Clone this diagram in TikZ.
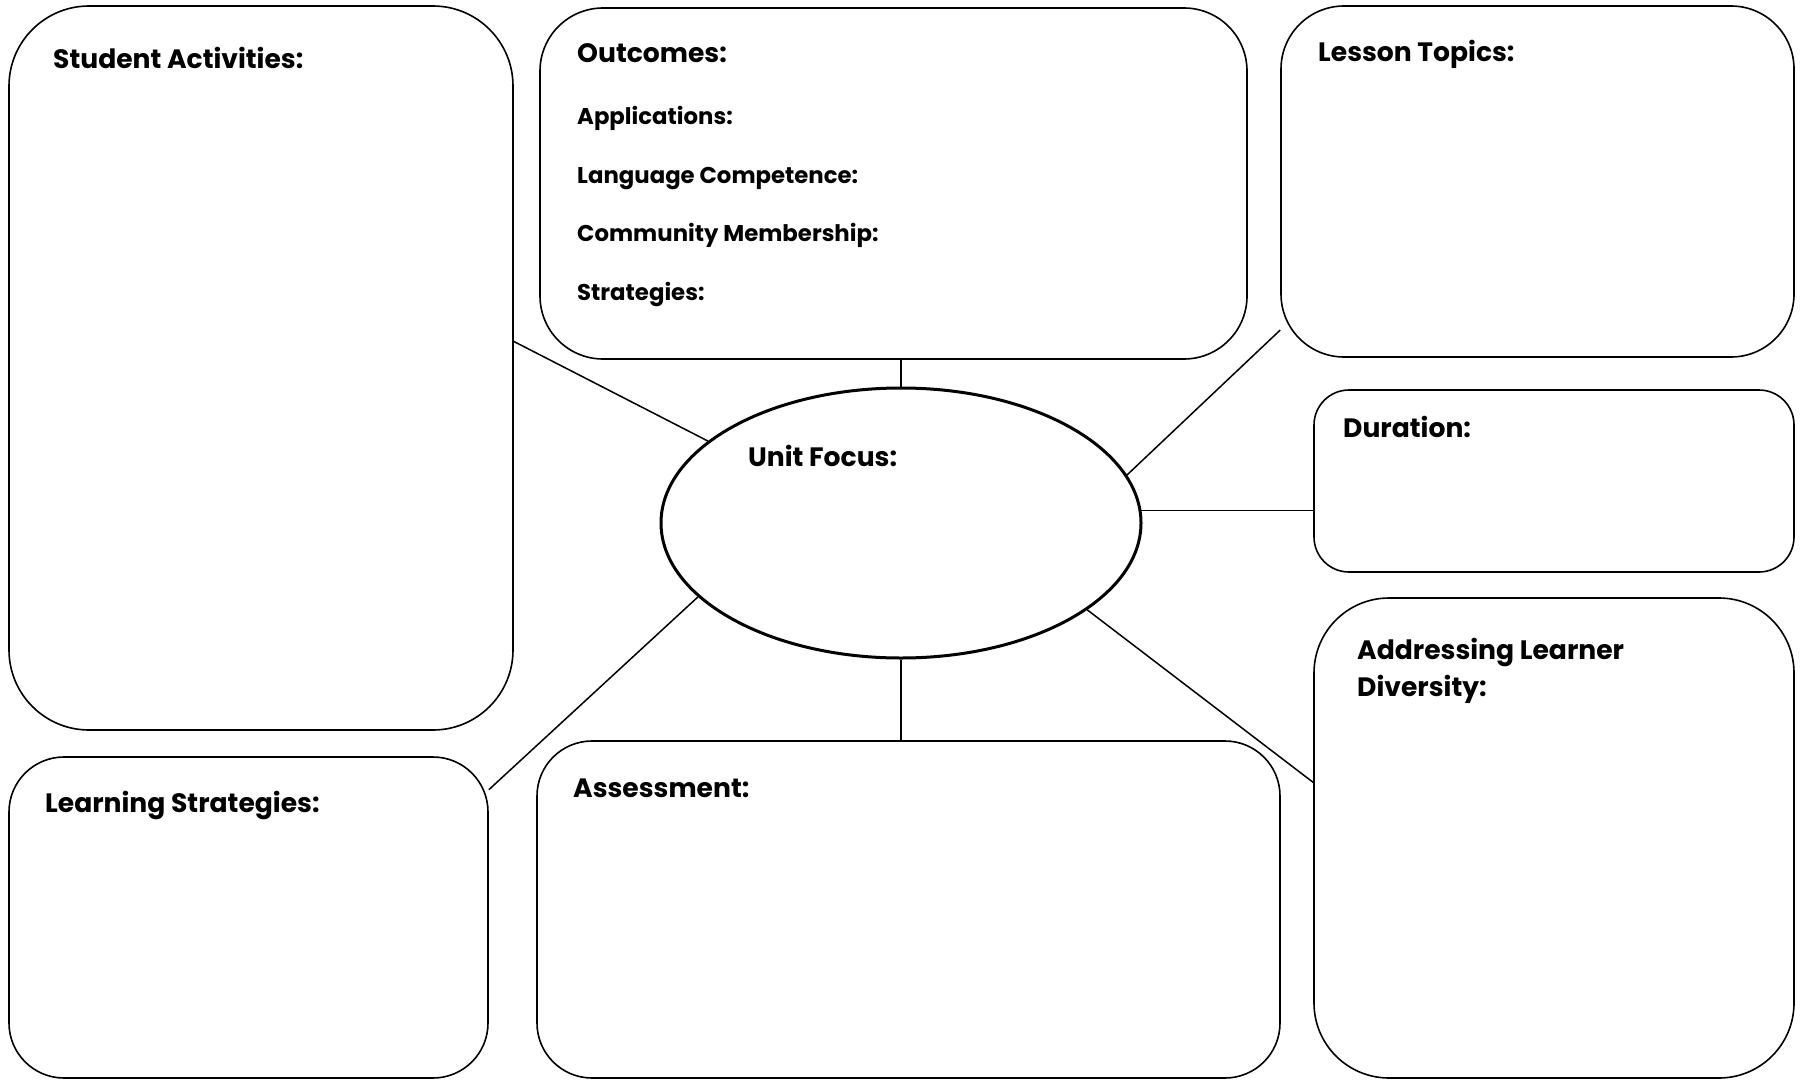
\documentclass[tikz,border=0pt]{standalone}
\usepackage{fontspec}
\setmainfont{Poppins}
\usetikzlibrary{shapes.geometric,backgrounds}

\begin{document}
\begin{tikzpicture}[x=1pt,y=-1pt]
        \tikzset{Box/.style={draw,line width=1.6pt,fill=white,inner sep=0pt}}
        \tikzset{Head/.style={anchor=base west,inner sep=0pt,font=\bfseries\fontsize{26.6}{37}\selectfont}}
        \tikzset{Sub/.style={anchor=base west,inner sep=0pt,font=\bfseries\fontsize{22.8}{28}\selectfont}}
        \tikzset{Link/.style={line width=1.5pt}}

        \useasboundingbox (0,0) rectangle (1802,1081);

        \node[Box,rounded corners=80pt,minimum width=504pt,minimum height=724pt] (Act) at (261,368) {};
        \node[Box,rounded corners=63pt,minimum width=707pt,minimum height=351pt] (Out) at (893.5,183.5) {};
        \node[Box,rounded corners=63pt,minimum width=513pt,minimum height=351pt] (Top) at (1537.5,181.5) {};
        \node[Box,rounded corners=35pt,minimum width=480pt,minimum height=182pt] (Dur) at (1554,481) {};
        \node[Box,rounded corners=75pt,minimum width=480pt,minimum height=480pt] (Div) at (1554,838) {};
        \node[Box,rounded corners=55pt,minimum width=479pt,minimum height=321pt] (Strat) at (248.5,917.5) {};
        \node[Box,rounded corners=55pt,minimum width=743pt,minimum height=337pt] (Assess) at (908.5,909.5) {};
        \node[Box,ellipse,line width=3pt,minimum width=480pt,minimum height=270pt] (Focus) at (901,523) {};

        \begin{pgfonlayer}{background}
        \draw[Link] (Focus.north) -- (Focus.north |- Out.south);
        \draw[Link] (Focus.south) -- (Focus.south |- Assess.north);
        \draw[Link] (Focus.3) -- (Focus.3 -| Dur.west);
        \draw[Link] (Act.6) -- (Focus.157);
        \draw[Link] (Strat.28) -- (Focus.200);
        \draw[Link] (Top.210) -- (Focus.12);
        \draw[Link] (Div.167) -- (Focus.335);
        \end{pgfonlayer}

        \node[Head] (ActL) at (53,69) {Student Activities:};
        \node[Head] (OutL) at (577,63) {Outcomes:};
        \node[Sub] (OutA) at (577,124) {Applications:};
        \node[Sub] (OutB) at (577,183) {Language Competence:};
        \node[Sub] (OutC) at (577,241) {Community Membership:};
        \node[Sub] (OutD) at (577,300) {Strategies:};
        \node[Head] (TopL) at (1318,62) {Lesson Topics:};
        \node[Head] (DurL) at (1343,437) {Duration:};
        \node[Head,align=left] (DivL) at (1357,696) {Addressing Learner\\Diversity:};
        \node[Head] (FocusL) at (748,466) {Unit Focus:};
        \node[Head] (StratL) at (45,812) {Learning Strategies:};
        \node[Head] (AssessL) at (573,797) {Assessment:};
\end{tikzpicture}
\end{document}
